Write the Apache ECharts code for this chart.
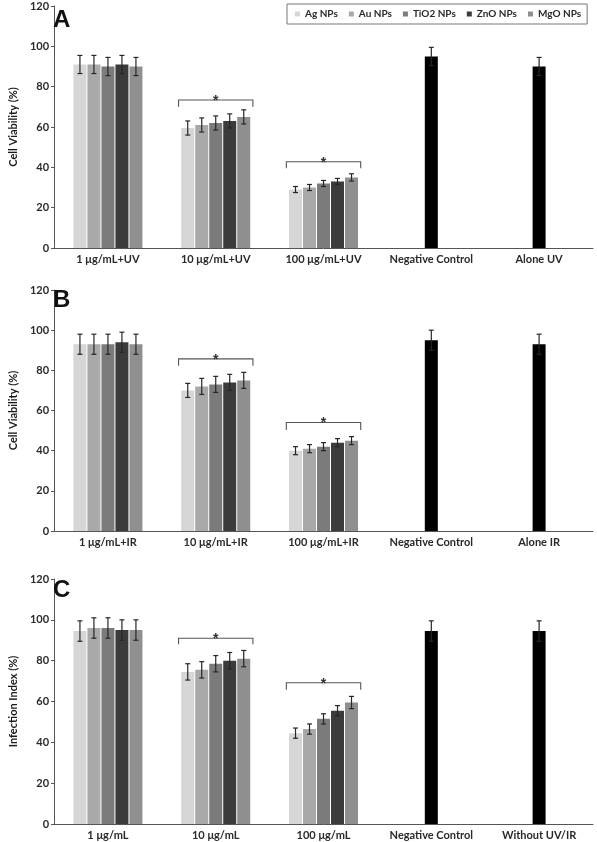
<!DOCTYPE html>
<html>
<head>
<meta charset="utf-8">
<script src="https://cdn.jsdelivr.net/npm/echarts@6/dist/echarts.min.js"></script>
<style>
html,body{margin:0;padding:0;background:#fff;}
#chart{width:597px;height:842px;}
</style>
</head>
<body>
<div id="chart"></div>
<script>
// ---------- DATA ----------
const seriesNames = ['Ag NPs', 'Au NPs', 'TiO2 NPs', 'ZnO NPs', 'MgO NPs'];
const seriesColors = ['#d6d6d6', '#a9a9a9', '#7b7b7b', '#3b3b3b', '#8f8f8f'];

const categoriesA = ['1 μg/mL+UV', '10 μg/mL+UV', '100 μg/mL+UV', 'Negative Control', 'Alone UV'];
const categoriesB = ['1 μg/mL+IR', '10 μg/mL+IR', '100 μg/mL+IR', 'Negative Control', 'Alone IR'];
const categoriesC = ['1 μg/mL', '10 μg/mL', '100 μg/mL', 'Negative Control', 'Without UV/IR'];

const yTicks = [0, 20, 40, 60, 80, 100, 120];

// rows = concentration groups, columns = Ag, Au, TiO2, ZnO, MgO
const valuesA = [[91, 91, 90, 91, 90], [59.5, 61, 62, 63, 65], [29, 30, 32, 33, 35]];
const errorsA = [[4.5, 4.5, 4.5, 4.5, 4.5], [3.5, 3.5, 3.5, 3.5, 3.5], [1.5, 1.5, 1.5, 1.5, 1.8]];
const controlsA = [95, 90];
const controlErrA = [4.5, 4.5];
const bracketsA = [[1, 73.4, 3.4], [2, 42.8, 3.3]];

const valuesB = [[93, 93, 93, 94, 93], [70, 72, 73, 74, 75], [40, 41, 42, 44, 45]];
const errorsB = [[5, 5, 5, 5, 5], [3.5, 4, 4, 4, 4], [2, 2, 2, 2, 2]];
const controlsB = [95, 93];
const controlErrB = [5, 5];
const bracketsB = [[1, 85.7, 3.4], [2, 54, 3.7]];

const valuesC = [[94.5, 96, 96, 95, 95], [74.5, 75.5, 78.5, 80, 81], [44.5, 46.5, 51.5, 55.5, 59.5]];
const errorsC = [[5, 5, 5, 5, 5], [4, 4, 4, 4, 4], [2.5, 2.5, 2.5, 2.5, 3]];
const controlsC = [94.5, 94.5];
const controlErrC = [5, 5];
const bracketsC = [[1, 91, 3], [2, 69.2, 3.5]];

const yNames = ['Cell Viability (%)', 'Cell Viability (%)', 'Infection Index (%)'];
const panelLetters = ['A', 'B', 'C'];

// ---------- LAYOUT ----------
const BAR_W = 13, BAR_STEP = 14;
const grids = [
  {left: 43, width: 550, top: 6, height: 242},
  {left: 43, width: 550, top: 290, height: 241},
  {left: 43, width: 550, top: 579, height: 245}
];
const letterTops = [8, 288, 578];
const FONT = 'Lato, "Liberation Sans", Arial, sans-serif';
const panels = [
  {cats: categoriesA, vals: valuesA, errs: errorsA, ctrl: controlsA, ctrlErr: controlErrA, br: bracketsA},
  {cats: categoriesB, vals: valuesB, errs: errorsB, ctrl: controlsB, ctrlErr: controlErrB, br: bracketsB},
  {cats: categoriesC, vals: valuesC, errs: errorsC, ctrl: controlsC, ctrlErr: controlErrC, br: bracketsC}
];

const xAxes = [], yAxes = [], series = [], titles = [];

function errRender(params, api) {
  const cat = api.value(0), v = api.value(1), e = api.value(2), s = api.value(3);
  const off = s < 0 ? 0 : (s - 2) * BAR_STEP;
  const top = api.coord([cat, v + e]);
  const bot = api.coord([cat, v - e]);
  const x = top[0] + off;
  const st = {stroke: '#262626', lineWidth: 1.2};
  return {
    type: 'group',
    children: [
      {type: 'line', shape: {x1: x, y1: top[1], x2: x, y2: bot[1]}, style: st},
      {type: 'line', shape: {x1: x - 2.5, y1: top[1], x2: x + 2.5, y2: top[1]}, style: st},
      {type: 'line', shape: {x1: x - 2.5, y1: bot[1], x2: x + 2.5, y2: bot[1]}, style: st}
    ]
  };
}

function bracketRender(params, api) {
  const cat = api.value(0), lvl = api.value(1), tk = api.value(2);
  const p = api.coord([cat, lvl]);
  const q = api.coord([cat, lvl - tk]);
  const hw = api.size([1, 0])[0] * 0.345;
  return {
    type: 'group',
    children: [
      {type: 'polyline', shape: {points: [[p[0] - hw, q[1]], [p[0] - hw, p[1]], [p[0] + hw, p[1]], [p[0] + hw, q[1]]]},
       style: {stroke: '#555', lineWidth: 1.1, fill: null}},
      {type: 'text', style: {text: '*', x: p[0], y: p[1] + 1, align: 'center', verticalAlign: 'middle',
        font: 'bold 14px "Liberation Sans", Arial, sans-serif', fill: '#333'}}
    ]
  };
}

panels.forEach((pn, gi) => {
  const xi = gi * 2;
  xAxes.push({
    type: 'category', gridIndex: gi, data: pn.cats,
    axisLine: {lineStyle: {color: '#555', width: 1}},
    axisTick: {show: false},
    axisLabel: {color: '#2a2a2a', fontFamily: FONT, fontWeight: 'bold', fontSize: 11, margin: 6, interval: 0}
  });
  xAxes.push({type: 'category', gridIndex: gi, data: pn.cats, show: false});
  yAxes.push({
    type: 'value', gridIndex: gi, min: yTicks[0], max: yTicks[yTicks.length - 1], interval: yTicks[1] - yTicks[0],
    name: yNames[gi], nameLocation: 'middle', nameRotate: 90, nameGap: 33,
    nameTextStyle: {color: '#1a1a1a', fontFamily: FONT, fontWeight: 'bold', fontSize: 11},
    axisLine: {show: true, lineStyle: {color: '#555', width: 1}},
    axisTick: {show: true, length: 3, lineStyle: {color: '#555'}},
    splitLine: {show: false},
    axisLabel: {color: '#2a2a2a', fontFamily: FONT, fontWeight: 'bold', fontSize: 11, margin: 5}
  });
  // NP bars
  seriesNames.forEach((name, si) => {
    const d = pn.vals.map(row => row[si]).concat([null, null]);
    series.push({
      type: 'bar', name: name, xAxisIndex: xi, yAxisIndex: gi, data: d,
      barWidth: BAR_W, barGap: '7.7%',
      itemStyle: {color: seriesColors[si]},
      emphasis: {disabled: true}, animation: false
    });
  });
  // control bars
  series.push({
    type: 'bar', name: 'control', xAxisIndex: xi + 1, yAxisIndex: gi,
    data: [null, null, null, pn.ctrl[0], pn.ctrl[1]],
    barWidth: BAR_W, itemStyle: {color: '#000'}, animation: false
  });
  // error bars
  const ed = [];
  pn.vals.forEach((row, ci) => row.forEach((v, si) => ed.push([ci, v, pn.errs[ci][si], si])));
  pn.ctrl.forEach((v, k) => ed.push([3 + k, v, pn.ctrlErr[k], -1]));
  series.push({
    type: 'custom', name: 'err', xAxisIndex: xi, yAxisIndex: gi, data: ed,
    encode: {x: 0, y: 1}, renderItem: errRender, z: 5, animation: false, silent: true
  });
  // significance brackets
  series.push({
    type: 'custom', name: 'sig', xAxisIndex: xi, yAxisIndex: gi, data: pn.br,
    encode: {x: 0, y: 1}, renderItem: bracketRender, z: 5, animation: false, silent: true
  });
  titles.push({
    text: panelLetters[gi], left: 53, top: letterTops[gi], padding: 0,
    textStyle: {fontFamily: '"Liberation Sans", Arial, sans-serif', fontWeight: 'bold', fontSize: 24, color: '#111'}
  });
});

const chart = echarts.init(document.getElementById('chart'), null, {renderer: 'canvas'});
chart.setOption({
  backgroundColor: '#fff',
  animation: false,
  title: titles,
  grid: grids,
  xAxis: xAxes,
  yAxis: yAxes,
  legend: {
    data: seriesNames, left: 287, top: 4, width: 300, orient: 'horizontal',
    padding: [5, 6, 5, 8], itemGap: 11, itemWidth: 5, itemHeight: 5, icon: 'rect',
    borderColor: '#777', borderWidth: 1,
    textStyle: {color: '#2a2a2a', fontFamily: FONT, fontWeight: 'bold', fontSize: 10}
  },
  series: series
});
</script>
</body>
</html>
